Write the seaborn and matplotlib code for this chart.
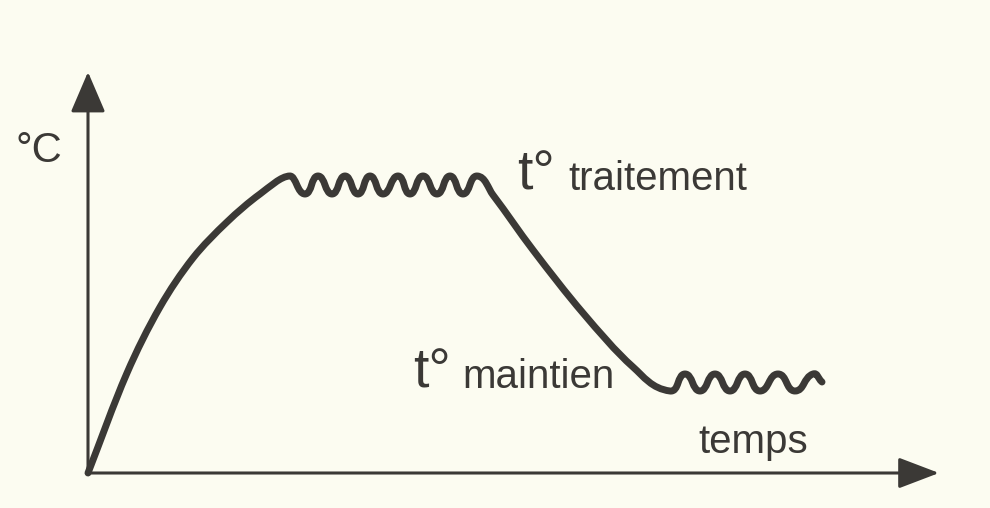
import numpy as np
import matplotlib.pyplot as plt
from matplotlib.path import Path
from matplotlib.patches import PathPatch
import seaborn as sns

# values: time from the origin, temperature above the time axis
rise_time = [0, 39, 72, 105, 139, 172, 202]
rise_temp = [0, 100, 166, 215, 251, 279, 297]

treat_time = [217, 230, 244, 257, 270, 282, 295, 310, 322, 335, 349, 362, 375, 389]
treat_temp = [279, 297, 279, 297, 279, 297, 279, 297, 279, 297, 279, 297, 279, 297]

cool_time = [405, 445, 495, 545]
cool_temp = [278, 223, 160, 106]

keep_time = [582, 597, 612, 627, 642, 657, 672, 690, 707, 725, 734]
keep_temp = [82, 99, 82, 99, 82, 99, 82, 99, 82, 99, 91]

labels = ["°C", "t°", "traitement", "t°", "maintien", "temps"]

bg = "#fcfcf1"
ink = "#3b3936"

sns.set_theme(style="white")
plt.rcParams["font.family"] = ["Liberation Sans", "DejaVu Sans"]

fig = plt.figure(figsize=(9.9, 5.08), dpi=100, facecolor=bg)
ax = fig.add_axes([0, 0, 1, 1])
ax.set_facecolor(bg)
ax.set_xlim(-88, 902)
ax.set_ylim(-35, 473)
ax.axis("off")

# smooth curve through the read points (chord-length Hermite as cubic Bezier);
# the wiggly holds get longer handles so their humps come out round
segs = [(rise_time, rise_temp, 1.0), (treat_time, treat_temp, 1.6),
        (cool_time, cool_temp, 1.0), (keep_time, keep_temp, 1.6)]
pts = np.vstack([np.column_stack([s[0], s[1]]) for s in segs]).astype(float)
k = np.concatenate([[s[2]] * len(s[0]) for s in segs])
d = np.linalg.norm(np.diff(pts, axis=0), axis=1)
n = len(pts)
tang = np.zeros_like(pts)
for i in range(n):
    a, b = max(i - 1, 0), min(i + 1, n - 1)
    tang[i] = (pts[b] - pts[a]) / d[a:b].sum()
verts = [pts[0]]
codes = [Path.MOVETO]
for i in range(n - 1):
    h = d[i] / 3
    verts += [pts[i] + tang[i] * h * k[i], pts[i + 1] - tang[i + 1] * h * k[i + 1], pts[i + 1]]
    codes += [Path.CURVE4] * 3
ax.add_patch(PathPatch(Path(verts, codes), fill=False, lw=5, ec=ink,
                       capstyle="round", joinstyle="round", zorder=3))

# axes with arrow heads
arrow = dict(arrowstyle="-|>,head_length=2.1,head_width=0.9", lw=2.2,
             color=ink, shrinkA=0, shrinkB=0)
ax.annotate("", xy=(0, 401), xytext=(0, 0), arrowprops=arrow)
ax.annotate("", xy=(851, 0), xytext=(0, 0),
            arrowprops=dict(arrow, arrowstyle="-|>,head_length=2.1,head_width=0.8"))

txt = dict(color=ink, ha="left", va="baseline")
ax.text(-72, 311, labels[0], fontsize=30, **txt)
ax.text(429, 283, labels[1], fontsize=40, **txt)
ax.text(480, 283, labels[2], fontsize=29, **txt)
ax.text(325, 85, labels[3], fontsize=40, **txt)
ax.text(374, 85, labels[4], fontsize=29, **txt)
ax.text(610, 20, labels[5], fontsize=29, **txt)

fig.savefig("out.png", dpi=100, facecolor=bg)
